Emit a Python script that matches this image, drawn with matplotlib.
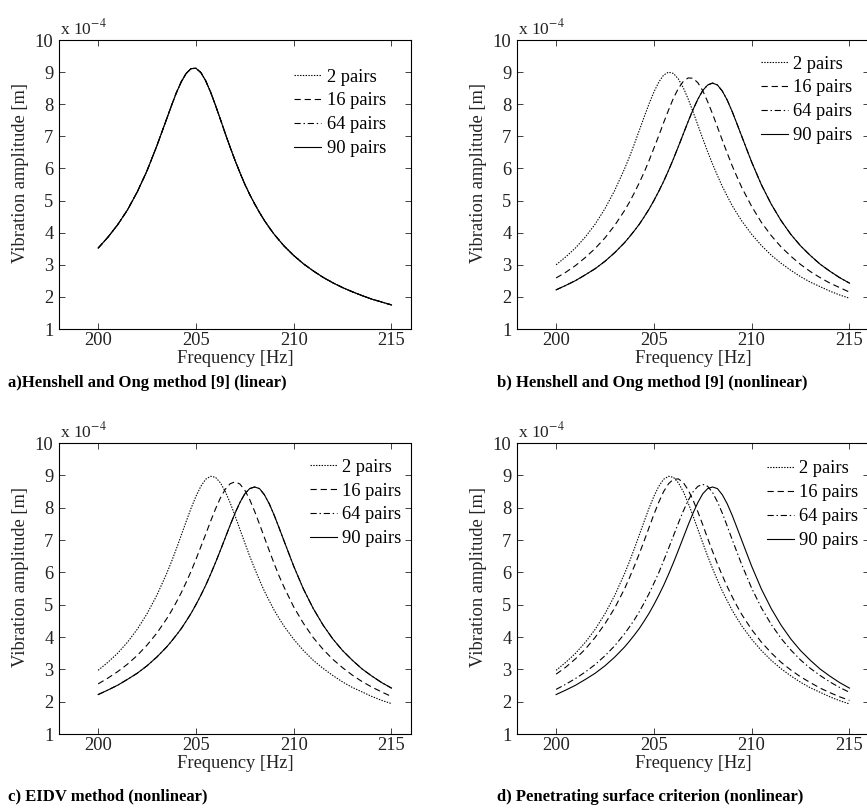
import matplotlib
matplotlib.use('Agg')
import matplotlib.pyplot as plt

plt.rcParams['font.family'] = 'Liberation Serif'
plt.rcParams['mathtext.fontset'] = 'stix'
plt.rcParams['lines.scale_dashes'] = False

# frequency grid [Hz] (finer around the peaks)
freq = [200, 200.5, 201, 201.5, 202, 202.5, 203, 203.5,
        203.75, 204, 204.25, 204.5, 204.75, 205, 205.25, 205.5, 205.75, 206,
        206.25, 206.5, 206.75, 207, 207.25, 207.5, 207.75, 208, 208.25, 208.5,
        208.75, 209, 209.25, 209.5,
        210, 210.5, 211, 211.5, 212, 212.5, 213, 213.5, 214, 214.5, 215]

# amplitudes in units of 1e-4 m
# a) linear: all four curves coincide
a_all = [3.52, 3.86, 4.25, 4.71, 5.27, 5.93, 6.70, 7.54,
         7.96, 8.36, 8.70, 8.96, 9.11, 9.12, 8.99, 8.73, 8.38, 7.97,
         7.53, 7.09, 6.66, 6.25, 5.87, 5.51, 5.19, 4.90, 4.63, 4.38,
         4.16, 3.95, 3.77, 3.59,
         3.29, 3.03, 2.81, 2.61, 2.44, 2.29, 2.16, 2.04, 1.93, 1.84, 1.75]

# b) Henshell and Ong (nonlinear); 64 pairs lies under 90 pairs
b_2 = [3.00, 3.25, 3.53, 3.87, 4.27, 4.75, 5.32, 5.99,
       6.36, 6.76, 7.18, 7.60, 8.01, 8.38, 8.69, 8.91, 9.00, 8.96,
       8.79, 8.52, 8.17, 7.77, 7.35, 6.93, 6.52, 6.14, 5.78, 5.44,
       5.14, 4.85, 4.60, 4.36,
       3.95, 3.60, 3.30, 3.05, 2.83, 2.63, 2.46, 2.32, 2.18, 2.06, 1.96]
b_16 = [2.59, 2.77, 2.98, 3.23, 3.51, 3.84, 4.23, 4.69,
        4.95, 5.24, 5.55, 5.88, 6.24, 6.63, 7.02, 7.43, 7.82, 8.19,
        8.49, 8.71, 8.82, 8.81, 8.67, 8.42, 8.08, 7.70, 7.29, 6.88,
        6.48, 6.09, 5.74, 5.40,
        4.82, 4.32, 3.91, 3.56, 3.27, 3.01, 2.79, 2.60, 2.43, 2.29, 2.15]
b_90 = [2.22, 2.36, 2.51, 2.69, 2.88, 3.11, 3.38, 3.69,
        3.87, 4.06, 4.26, 4.49, 4.73, 5.00, 5.29, 5.60, 5.94, 6.30,
        6.68, 7.07, 7.46, 7.83, 8.16, 8.43, 8.60, 8.66, 8.60, 8.41,
        8.13, 7.78, 7.39, 6.99,
        6.20, 5.49, 4.89, 4.38, 3.95, 3.59, 3.29, 3.02, 2.80, 2.60, 2.43]
b_64 = b_90

# c) EIDV method (nonlinear)
c_2 = [2.97, 3.22, 3.50, 3.84, 4.24, 4.72, 5.29, 5.96,
       6.33, 6.73, 7.15, 7.57, 7.98, 8.35, 8.66, 8.88, 8.97, 8.94,
       8.77, 8.50, 8.15, 7.75, 7.33, 6.91, 6.50, 6.12, 5.76, 5.42,
       5.12, 4.83, 4.58, 4.34,
       3.93, 3.58, 3.28, 3.03, 2.81, 2.61, 2.44, 2.30, 2.16, 2.04, 1.94]
c_16 = [2.55, 2.73, 2.93, 3.16, 3.43, 3.75, 4.12, 4.56,
        4.81, 5.08, 5.37, 5.69, 6.03, 6.40, 6.79, 7.18, 7.58, 7.96,
        8.30, 8.57, 8.74, 8.80, 8.73, 8.54, 8.25, 7.89, 7.49, 7.08,
        6.67, 6.27, 5.89, 5.55,
        4.93, 4.42, 3.98, 3.62, 3.31, 3.05, 2.82, 2.62, 2.45, 2.30, 2.16]
c_90 = [2.22, 2.36, 2.51, 2.69, 2.88, 3.11, 3.38, 3.69,
        3.87, 4.06, 4.26, 4.49, 4.73, 5.00, 5.29, 5.60, 5.94, 6.30,
        6.68, 7.07, 7.46, 7.83, 8.16, 8.43, 8.59, 8.64, 8.59, 8.40,
        8.12, 7.77, 7.38, 6.98,
        6.19, 5.48, 4.88, 4.37, 3.94, 3.58, 3.28, 3.01, 2.79, 2.59, 2.42]
c_64 = c_90

# d) penetrating surface criterion (nonlinear)
d_2 = [2.97, 3.22, 3.50, 3.84, 4.24, 4.72, 5.29, 5.96,
       6.33, 6.73, 7.15, 7.57, 7.98, 8.35, 8.66, 8.88, 8.97, 8.94,
       8.77, 8.50, 8.15, 7.75, 7.33, 6.91, 6.50, 6.12, 5.76, 5.42,
       5.12, 4.83, 4.58, 4.34,
       3.93, 3.58, 3.28, 3.02, 2.80, 2.60, 2.43, 2.29, 2.15, 2.03, 1.93]
d_16 = [2.85, 3.07, 3.33, 3.63, 3.99, 4.41, 4.90, 5.49,
        5.83, 6.19, 6.57, 6.97, 7.38, 7.79, 8.17, 8.50, 8.74, 8.88,
        8.89, 8.78, 8.55, 8.24, 7.87, 7.47, 7.05, 6.65, 6.26, 5.90,
        5.56, 5.25, 4.96, 4.69,
        4.23, 3.84, 3.51, 3.22, 2.98, 2.77, 2.59, 2.42, 2.28, 2.15, 2.04]
d_64 = [2.38, 2.54, 2.72, 2.92, 3.15, 3.42, 3.73, 4.10,
        4.31, 4.53, 4.78, 5.05, 5.34, 5.66, 5.99, 6.36, 6.74, 7.13,
        7.52, 7.89, 8.22, 8.49, 8.66, 8.72, 8.66, 8.47, 8.18, 7.83,
        7.43, 7.02, 6.62, 6.23,
        5.51, 4.90, 4.39, 3.96, 3.60, 3.29, 3.03, 2.81, 2.61, 2.44, 2.29]
d_90 = c_90

labels = ['2 pairs', '16 pairs', '64 pairs', '90 pairs']
captions = ['a)Henshell and Ong method [9] (linear)',
            'b) Henshell and Ong method [9] (nonlinear)',
            'c) EIDV method (nonlinear)',
            'd) Penetrating surface criterion (nonlinear)']

styles = [(0, (1, 1)), (0, (4.5, 2.8)), (0, (4.5, 2, 1, 2)), '-']

panels = [
    ([a_all, a_all, a_all, a_all], [0.0681, 0.5933, 0.406, 0.3572], (0.668, 0.901), (0.009, 0.527)),
    ([b_2, b_16, b_64, b_90], [0.5963, 0.5933, 0.406, 0.3572], (0.693, 0.946), (0.573, 0.527)),
    ([c_2, c_16, c_64, c_90], [0.0681, 0.0927, 0.406, 0.3597], (0.713, 0.946), (0.009, 0.015)),
    ([d_2, d_16, d_64, d_90], [0.5963, 0.0927, 0.406, 0.3597], (0.710, 0.940), (0.573, 0.015)),
]

fs = 13.3
ink = '#222222'

fig = plt.figure(figsize=(8.67, 8.09), dpi=100)

for (curves, pos, leg_xy, cap_xy), caption in zip(panels, captions):
    ax = fig.add_axes(pos)
    for amp, ls, lab in zip(curves, styles, labels):
        ax.plot(freq, amp, color='black', linestyle=ls, linewidth=0.8, label=lab)

    ax.set_xlim(198, 216)
    ax.set_ylim(1, 10)
    ax.set_xticks([200, 205, 210, 215])
    ax.set_yticks(range(1, 11))
    ax.tick_params(direction='in', top=True, right=True, length=4, width=0.6,
                   labelsize=fs, colors=ink)
    ax.tick_params(axis='x', pad=2)
    ax.tick_params(axis='y', pad=4)
    for sp in ax.spines.values():
        sp.set_linewidth(0.8)

    ax.set_xlabel('Frequency [Hz]', fontsize=fs, labelpad=1, color=ink)
    ax.set_ylabel('Vibration amplitude [m]', fontsize=fs, color=ink)
    ax.yaxis.set_label_coords(-0.085, 0.54)
    ax.text(0.003, 1.006, r'x 10$^{-4}$', transform=ax.transAxes, ha='left',
            va='bottom', fontsize=12.5, color=ink)

    ax.legend(loc='upper left', bbox_to_anchor=leg_xy, frameon=False, fontsize=fs,
              borderpad=0, borderaxespad=0, handlelength=1.45, handletextpad=0.3,
              labelspacing=0.37)

    fig.text(cap_xy[0], cap_xy[1], caption, fontsize=12, fontweight='bold',
             ha='left', va='center')

fig.savefig('out.png', dpi=100)
